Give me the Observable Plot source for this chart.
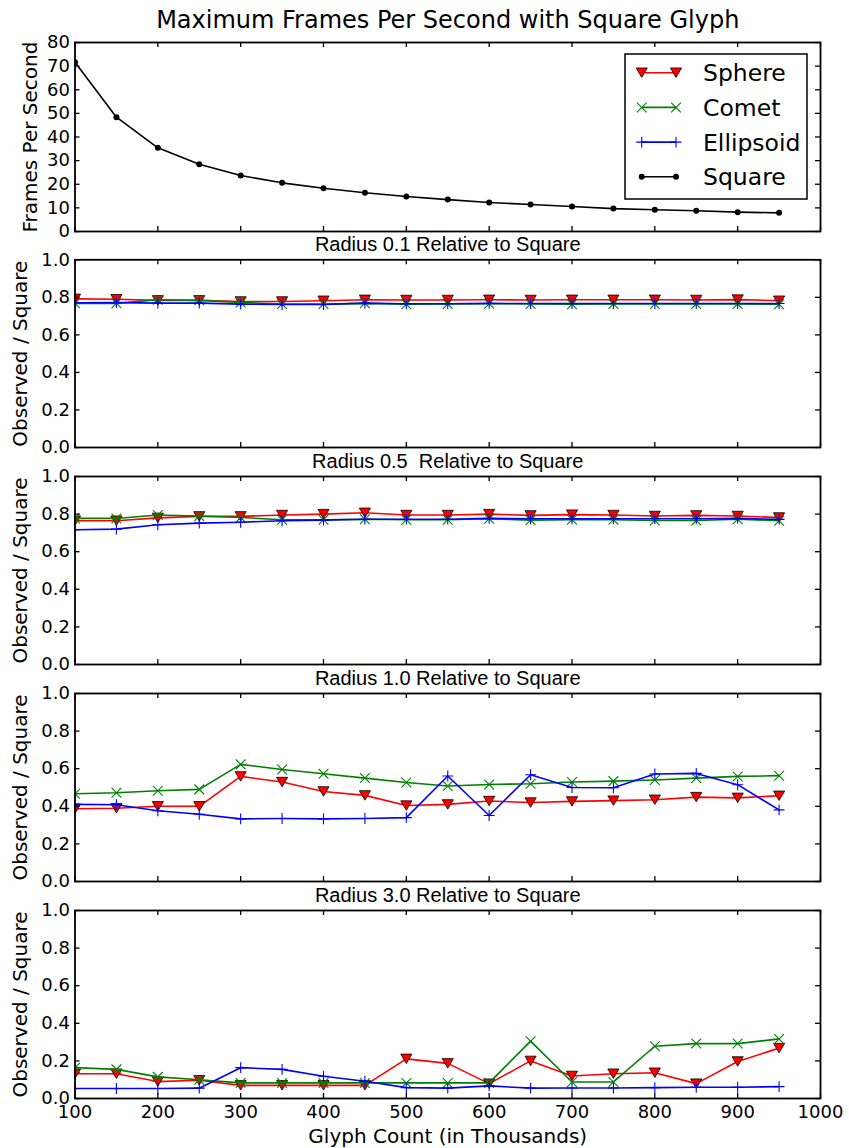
<!DOCTYPE html>
<html>
<head>
<meta charset="utf-8">
<script src="https://cdn.jsdelivr.net/npm/d3@7"></script>
<script src="https://cdn.jsdelivr.net/npm/@observablehq/plot@0.6"></script>
<style>
  body { margin: 0; background: #fff; }
  #chart { position: relative; width: 849px; height: 1148px; background: #fff; overflow: hidden; }
  #chart > svg { position: absolute; left: 0; }
</style>
</head>
<body>
<div id="chart"></div>
<script>
// ---------- data ----------
const glyphCounts = [100,150,200,250,300,350,400,450,500,550,600,650,700,750,800,850,900,950];
const squareFps   = [71.6,48.4,35.4,28.5,23.7,20.6,18.3,16.4,14.8,13.5,12.3,11.4,10.6,9.7,9.2,8.8,8.2,7.9];

const sphere01    = [0.792,0.790,0.784,0.784,0.778,0.778,0.782,0.787,0.786,0.786,0.787,0.786,0.787,0.787,0.787,0.786,0.788,0.782];
const comet01     = [0.768,0.768,0.787,0.784,0.773,0.764,0.764,0.768,0.763,0.765,0.766,0.765,0.763,0.765,0.765,0.765,0.765,0.763];
const ellipsoid01 = [0.771,0.772,0.769,0.769,0.764,0.762,0.762,0.769,0.766,0.766,0.768,0.767,0.767,0.767,0.767,0.767,0.767,0.767];

const sphere05    = [0.765,0.765,0.780,0.788,0.788,0.795,0.800,0.807,0.795,0.795,0.800,0.793,0.797,0.795,0.790,0.793,0.790,0.782];
const comet05     = [0.777,0.777,0.795,0.790,0.782,0.770,0.770,0.773,0.770,0.770,0.775,0.768,0.770,0.770,0.766,0.766,0.773,0.765];
const ellipsoid05 = [0.717,0.720,0.743,0.752,0.757,0.765,0.768,0.773,0.773,0.773,0.777,0.775,0.775,0.775,0.775,0.775,0.777,0.772];

const sphere10    = [0.387,0.390,0.400,0.400,0.559,0.529,0.479,0.458,0.404,0.410,0.428,0.420,0.426,0.430,0.435,0.449,0.445,0.456];
const comet10     = [0.467,0.472,0.483,0.490,0.623,0.596,0.573,0.550,0.527,0.508,0.516,0.520,0.529,0.534,0.540,0.550,0.559,0.563];
const ellipsoid10 = [0.410,0.408,0.376,0.358,0.333,0.335,0.333,0.335,0.340,0.561,0.351,0.568,0.500,0.499,0.572,0.575,0.515,0.381];

const sphere30    = [0.132,0.132,0.090,0.097,0.070,0.070,0.070,0.070,0.211,0.187,0.079,0.200,0.120,0.132,0.137,0.079,0.197,0.268];
const comet30     = [0.164,0.155,0.115,0.100,0.083,0.083,0.083,0.083,0.083,0.083,0.083,0.305,0.088,0.088,0.278,0.292,0.292,0.317];
const ellipsoid30 = [0.053,0.053,0.053,0.055,0.164,0.155,0.118,0.092,0.058,0.055,0.067,0.055,0.056,0.056,0.058,0.060,0.060,0.063];

const xTicks     = [100,200,300,400,500,600,700,800,900,1000];
const fpsTicks   = [0,10,20,30,40,50,60,70,80];
const ratioTicks = [0,0.2,0.4,0.6,0.8,1.0];

const seriesNames  = ["Sphere","Comet","Ellipsoid","Square"];
const seriesColors = {Sphere: "#ff0000", Comet: "#008000", Ellipsoid: "#0000ff", Square: "#000000"};

const mainTitle   = "Maximum Frames Per Second with Square Glyph";
const panelTitles = ["Radius 0.1 Relative to Square", "Radius 0.5\u00a0 Relative to Square",
                     "Radius 1.0 Relative to Square", "Radius 3.0 Relative to Square"];
const fpsLabel   = "Frames Per Second";
const ratioLabel = "Observed / Square";
const xLabel     = "Glyph Count (in Thousands)";

const ratioSeries = [
  {Sphere: sphere01, Comet: comet01, Ellipsoid: ellipsoid01},
  {Sphere: sphere05, Comet: comet05, Ellipsoid: ellipsoid05},
  {Sphere: sphere10, Comet: comet10, Ellipsoid: ellipsoid10},
  {Sphere: sphere30, Comet: comet30, Ellipsoid: ellipsoid30}
];

// ---------- styling helpers ----------
const W = 849, ML = 74.5, MR = 29, TICK = 5;
const FONT = "DejaVu Sans";

const triangleDown = {
  draw(ctx, size) {
    const a = Math.sqrt(size / Math.PI);
    const hw = a * 1.3, hh = a * 1.1;
    ctx.moveTo(-hw, -hh); ctx.lineTo(hw, -hh); ctx.lineTo(0, hh); ctx.closePath();
  }
};

const markerStyle = {
  Sphere:    {symbol: triangleDown, r: 4.3, fill: seriesColors.Sphere, stroke: "black", strokeWidth: 0.8},
  Comet:     {symbol: "times", r: 4.5, fill: "none", stroke: seriesColors.Comet, strokeWidth: 1.1},
  Ellipsoid: {symbol: "plus", r: 3.6, fill: "none", stroke: seriesColors.Ellipsoid, strokeWidth: 1.1},
  Square:    {symbol: "circle", r: 3, fill: "black", stroke: "none"}
};

function seriesMarks(name, values) {
  const data = glyphCounts.map((x, i) => ({x, y: values[i]}));
  return [
    Plot.line(data, {x: "x", y: "y", stroke: seriesColors[name], strokeWidth: 1.6, clip: true}),
    Plot.dot(data, {x: "x", y: "y", ...markerStyle[name], clip: true})
  ];
}

function makePanel({top, height, mt, mb, yDomain, yTicks, yFormat, ylabel, ylabelDx, content, extra}) {
  const innerW = W - ML - MR, innerH = height - mt - mb;
  const tickStyle = {stroke: "black", strokeWidth: 1.3};
  const svg = Plot.plot({
    width: W, height,
    marginLeft: ML, marginRight: MR, marginTop: mt, marginBottom: mb,
    style: {fontFamily: FONT, background: "transparent", overflow: "visible"},
    x: {domain: [100, 1000], axis: null},
    y: {domain: yDomain, axis: null},
    marks: [
      ...content,
      Plot.frame({stroke: "black", strokeWidth: 1.8}),
      Plot.tickX(xTicks, {x: d => d, insetBottom: innerH - TICK, ...tickStyle}),
      Plot.tickX(xTicks, {x: d => d, insetTop: innerH - TICK, ...tickStyle}),
      Plot.tickY(yTicks, {y: d => d, insetRight: innerW - TICK, ...tickStyle}),
      Plot.tickY(yTicks, {y: d => d, insetLeft: innerW - TICK, ...tickStyle}),
      Plot.axisY({ticks: yTicks, tickSize: 0, tickPadding: 5, tickFormat: yFormat, fontSize: 18, label: null}),
      Plot.text([ylabel], {text: d => d, frameAnchor: "left", dx: ylabelDx, rotate: -90,
        textAnchor: "middle", lineAnchor: "middle", fontSize: 20}),
      ...(extra || [])
    ]
  });
  svg.style.top = top + "px";
  document.getElementById("chart").appendChild(svg);
  return svg;
}

// ---------- top panel: FPS ----------
makePanel({
  top: 0, height: 234, mt: 42, mb: 3,
  yDomain: [0, 80], yTicks: fpsTicks, yFormat: "d",
  ylabel: fpsLabel, ylabelDx: -44,
  content: seriesMarks("Square", squareFps),
  extra: [
    Plot.text([mainTitle], {text: d => d, frameAnchor: "top", dy: -15, lineAnchor: "bottom", fontSize: 24})
  ]
});

// ---------- ratio panels ----------
const panelLayout = [
  {top: 234, height: 217, mt: 25.3, mb: 4},
  {top: 451, height: 217, mt: 25, mb: 4},
  {top: 668, height: 217, mt: 25, mb: 4},
  {top: 885, height: 263, mt: 25, mb: 50}
];

ratioSeries.forEach((s, i) => {
  const last = i === ratioSeries.length - 1;
  const extra = [
    Plot.text([panelTitles[i]], {text: d => d, frameAnchor: "top", dy: -9, lineAnchor: "bottom",
      fontFamily: "Liberation Sans", fontSize: 20})
  ];
  if (last) {
    extra.push(Plot.axisX({ticks: xTicks, tickSize: 0, tickPadding: 7, tickFormat: "d", fontSize: 18, label: null}));
    extra.push(Plot.text([xLabel], {text: d => d, frameAnchor: "bottom", dy: 44, lineAnchor: "bottom", fontSize: 20}));
  }
  makePanel({
    ...panelLayout[i],
    yDomain: [0, 1], yTicks: ratioTicks, yFormat: ".1f",
    ylabel: ratioLabel, ylabelDx: -54,
    content: [
      ...seriesMarks("Sphere", s.Sphere),
      ...seriesMarks("Comet", s.Comet),
      ...seriesMarks("Ellipsoid", s.Ellipsoid)
    ],
    extra
  });
});

// ---------- legend (inside top panel) ----------
const leg = d3.select("#chart").append("svg")
  .attr("width", 184).attr("height", 147)
  .style("left", "624px").style("top", "53px");
leg.append("rect")
  .attr("x", 1).attr("y", 1).attr("width", 182).attr("height", 145)
  .attr("fill", "white").attr("stroke", "black").attr("stroke-width", 1.5);
const d3Symbols = {circle: d3.symbolCircle, times: d3.symbolTimes, plus: d3.symbolPlus};
seriesNames.forEach((name, i) => {
  const cy = 19.7 + i * 34.7;
  const g = leg.append("g");
  g.append("line").attr("x1", 17.7).attr("x2", 52).attr("y1", cy).attr("y2", cy)
    .attr("stroke", seriesColors[name]).attr("stroke-width", 1.6);
  const m = markerStyle[name];
  const type = typeof m.symbol === "string" ? d3Symbols[m.symbol] : m.symbol;
  const path = d3.symbol().type(type).size(Math.PI * m.r * m.r)();
  [17.7, 52].forEach(cx => {
    g.append("path").attr("d", path).attr("transform", `translate(${cx},${cy})`)
      .attr("fill", m.fill).attr("stroke", m.stroke).attr("stroke-width", m.strokeWidth || 0);
  });
  g.append("text").attr("x", 79).attr("y", cy).attr("dy", "0.365em")
    .attr("font-family", FONT).attr("font-size", 23.5).text(name);
});
</script>
</body>
</html>
